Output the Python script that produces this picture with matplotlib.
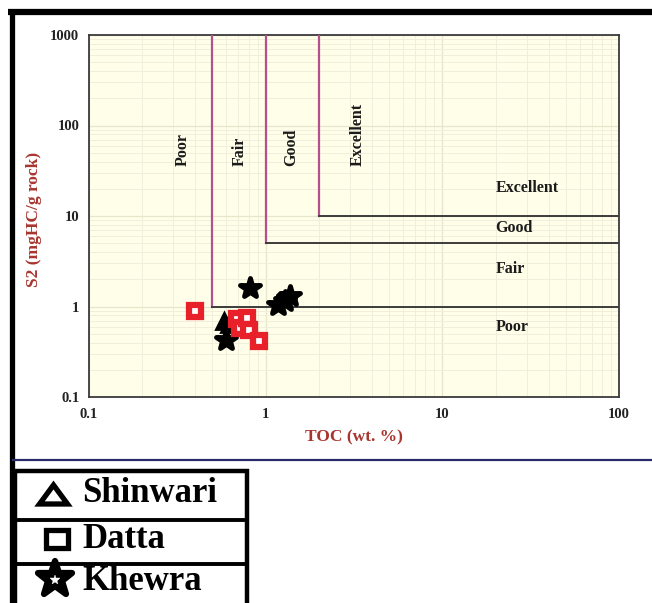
import matplotlib
matplotlib.use("Agg")
import matplotlib.pyplot as plt
from matplotlib.patches import Rectangle, Polygon
from matplotlib.markers import MarkerStyle
from matplotlib.ticker import LogLocator, NullFormatter, FixedLocator, FixedFormatter

# ---------------- data ----------------
shinwari_toc = [0.58, 0.62]
shinwari_s2 = [0.69, 0.64]

datta_toc = [0.40, 0.69, 0.72, 0.78, 0.80, 0.92]
datta_s2 = [0.89, 0.73, 0.58, 0.75, 0.55, 0.42]

khewra_toc = [0.815, 1.18, 1.28, 1.38, 0.60]
khewra_s2 = [1.60, 1.05, 1.16, 1.30, 0.43]

# classification boundaries (TOC, S2)
toc_bounds = [0.5, 1.0, 2.0]
s2_bounds = [1.0, 5.0, 10.0]
vert_labels = ["Poor", "Fair", "Good", "Excellent"]
vert_label_x = [0.34, 0.716, 1.39, 3.33]
horiz_labels = ["Excellent", "Good", "Fair", "Poor"]
horiz_label_y = [20.6, 7.37, 2.60, 0.594]

x_ticks = [0.1, 1, 10, 100]
x_tick_labels = ["0.1", "1", "10", "100"]
y_ticks = [0.1, 1, 10, 100, 1000]
y_tick_labels = ["0.1", "1", "10", "100", "1000"]

legend_names = ["Shinwari", "Datta", "Khewra"]

# ---------------- figure ----------------
W, H = 652, 603
fig = plt.figure(figsize=(W / 100, H / 100), dpi=100)
fig.patch.set_facecolor("white")

serif = ["Liberation Serif", "DejaVu Serif"]
label_red = "#a8362f"
round_star = MarkerStyle("*", joinstyle="round")

# background / decoration axes in pixel coordinates
bg = fig.add_axes([0, 0, 1, 1], zorder=0)
bg.set_xlim(0, W)
bg.set_ylim(H, 0)
bg.axis("off")

bg.plot([8, W], [12, 12], color="black", lw=4.5, solid_capstyle="butt")
bg.plot([11.5, 11.5], [9, H], color="black", lw=3.8, solid_capstyle="butt")
bg.plot([12, W], [460, 460], color="#2b2b6b", lw=1.6, solid_capstyle="butt")

# legend table
bg.add_patch(Rectangle((15, 470.5), 232, 160, fill=False, ec="black", lw=3.2))
for yy in [520, 563.5]:
    bg.plot([15, 247], [yy, yy], color="black", lw=2.8, solid_capstyle="butt")

bg.add_patch(Polygon([[53.5, 485], [39.5, 504], [67.5, 504]], closed=True,
                     fill=False, ec="black", lw=3.8, joinstyle="miter"))
bg.add_patch(Rectangle((46, 530), 21.5, 17.5, fill=False, ec="black", lw=3.8))
bg.plot([55], [579], marker=round_star, ms=26, mfc="black", mec="black", mew=4.5)
bg.plot([55], [579.5], marker="*", ms=7, mfc="white", mec="white", mew=0.3)

for name, yy in zip(legend_names, [494, 539, 581]):
    bg.text(82, yy, name, fontsize=25, fontweight="bold", family=serif,
            ha="left", va="center", color="black")

# ---------------- main axes ----------------
left, right, top, bottom = 89, 619, 35, 397
ax = fig.add_axes([left / W, 1 - bottom / H, (right - left) / W, (bottom - top) / H], zorder=1)
ax.set_facecolor("#fefee9")
ax.set_xscale("log")
ax.set_yscale("log")
ax.set_xlim(0.1, 100)
ax.set_ylim(0.1, 1000)

ax.xaxis.set_minor_locator(LogLocator(base=10, subs=range(2, 10)))
ax.yaxis.set_minor_locator(LogLocator(base=10, subs=range(2, 10)))
ax.xaxis.set_major_locator(FixedLocator(x_ticks))
ax.xaxis.set_major_formatter(FixedFormatter(x_tick_labels))
ax.yaxis.set_major_locator(FixedLocator(y_ticks))
ax.yaxis.set_major_formatter(FixedFormatter(y_tick_labels))
ax.xaxis.set_minor_formatter(NullFormatter())
ax.yaxis.set_minor_formatter(NullFormatter())

ax.grid(True, which="major", color="#e7e5cb", lw=0.9)
ax.grid(True, which="minor", color="#f1efdb", lw=0.7)
ax.set_axisbelow(True)
ax.tick_params(which="both", length=0)
ax.tick_params(axis="x", pad=8)
ax.tick_params(axis="y", pad=7)
for lab in ax.get_xticklabels() + ax.get_yticklabels():
    lab.set_fontfamily(serif)
    lab.set_fontweight("bold")
    lab.set_fontsize(10.5)
    lab.set_color("#222222")
for sp in ax.spines.values():
    sp.set_color("#3a3a3a")
    sp.set_linewidth(1.3)

ax.set_xlabel("TOC (wt. %)", fontsize=12.5, fontweight="bold", family=serif,
              color=label_red, labelpad=6)
fig.text(34 / W, 1 - 219 / H, "S2 (mgHC/g rock)", rotation=90, ha="center", va="center",
         fontsize=12.5, fontweight="bold", family=serif, color=label_red)

# classification lines
pink = "#b5508e"
for xb, yb in zip(toc_bounds, s2_bounds):
    ax.plot([xb, xb], [yb, 1000], color=pink, lw=1.6, zorder=3)
    ax.plot([xb, 100], [yb, yb], color="#3c3c3c", lw=1.4, zorder=3)

for txt, xv in zip(vert_labels, vert_label_x):
    ax.text(xv, 35.7, txt, rotation=90, ha="center", va="bottom", fontsize=11.5,
            fontweight="bold", family=serif, color="#1a1a1a", zorder=4)
for txt, yv in zip(horiz_labels, horiz_label_y):
    ax.text(20, yv, txt, ha="left", va="center", fontsize=11.5,
            fontweight="bold", family=serif, color="#1a1a1a", zorder=4)

# data
ax.plot(shinwari_toc, shinwari_s2, ls="none", marker="^", ms=11, mfc="black",
        mec="black", mew=2, zorder=5)
ax.plot(khewra_toc, khewra_s2, ls="none", marker=round_star, ms=15, mfc="black",
        mec="black", mew=3.5, zorder=6)
ax.plot(datta_toc, datta_s2, ls="none", marker="s", ms=8, mfc="white",
        mec="#e8202a", mew=4.5, zorder=7)

fig.savefig("out.png", dpi=100, facecolor="white")
